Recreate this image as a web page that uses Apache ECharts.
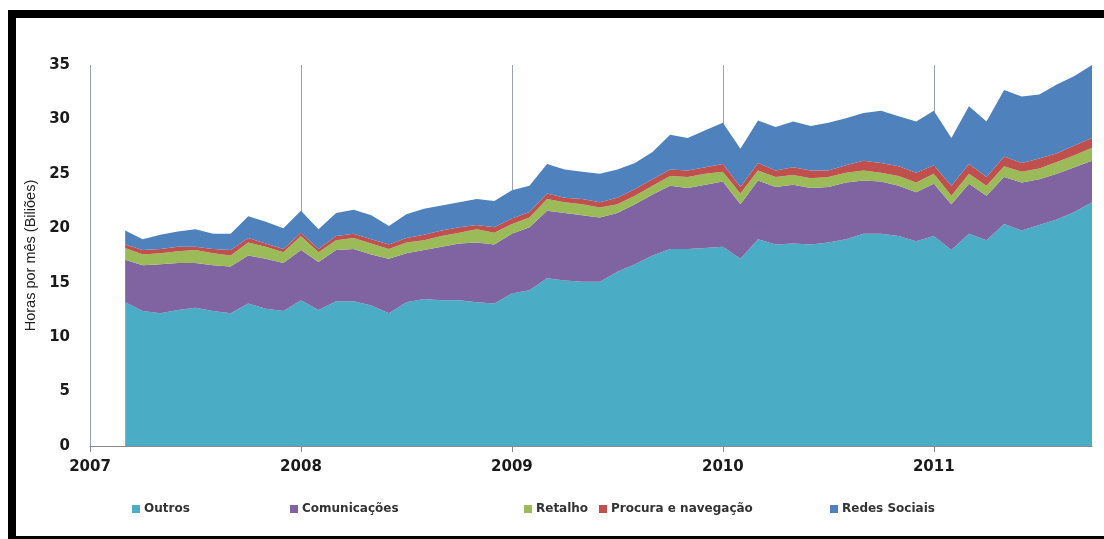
<!DOCTYPE html>
<html>
<head>
<meta charset="utf-8">
<script src="https://cdn.jsdelivr.net/npm/echarts@6/dist/echarts.min.js"></script>
<style>
html,body{margin:0;padding:0;background:#fff;}
#chart{width:1104px;height:539px;}
</style>
</head>
<body>
<div id="chart"></div>
<script>
// Axis months (Jan 2007 – Oct 2011); data starts Mar 2007
const axisMonths = [
 '2007-01','2007-02','2007-03','2007-04','2007-05','2007-06','2007-07','2007-08','2007-09','2007-10','2007-11','2007-12',
 '2008-01','2008-02','2008-03','2008-04','2008-05','2008-06','2008-07','2008-08','2008-09','2008-10','2008-11','2008-12',
 '2009-01','2009-02','2009-03','2009-04','2009-05','2009-06','2009-07','2009-08','2009-09','2009-10','2009-11','2009-12',
 '2010-01','2010-02','2010-03','2010-04','2010-05','2010-06','2010-07','2010-08','2010-09','2010-10','2010-11','2010-12',
 '2011-01','2011-02','2011-03','2011-04','2011-05','2011-06','2011-07','2011-08','2011-09','2011-10'
];
const firstDataMonth = '2007-03';
const seriesNames = ['Outros','Comunicações','Retalho','Procura e navegação','Redes Sociais'];
const outros = [13.2,12.4,12.2,12.5,12.7,12.4,12.2,13.1,12.6,12.4,
 13.4,12.5,13.3,13.3,12.9,12.2,13.2,13.5,13.4,13.4,13.2,13.1,
 14.0,14.3,15.4,15.2,15.1,15.1,16.0,16.7,17.5,18.1,18.1,18.2,
 18.3,17.2,19.0,18.5,18.6,18.5,18.7,19.0,19.5,19.5,19.3,18.8,
 19.3,18.0,19.5,18.9,20.4,19.8,20.3,20.8,21.5,22.4];
const comunicacoes = [3.9,4.2,4.5,4.3,4.1,4.2,4.3,4.4,4.6,4.4,
 4.6,4.4,4.7,4.8,4.7,5.0,4.5,4.5,4.9,5.2,5.5,5.4,
 5.5,5.8,6.2,6.2,6.1,5.9,5.4,5.5,5.6,5.8,5.6,5.8,
 6.0,5.0,5.4,5.3,5.4,5.2,5.1,5.2,4.9,4.8,4.6,4.5,
 4.8,4.2,4.6,4.1,4.3,4.4,4.2,4.2,4.1,3.8];
const retalho = [1.1,1.0,1.0,1.1,1.2,1.1,1.0,1.2,1.1,1.0,
 1.3,0.9,0.9,1.0,1.0,0.9,1.0,0.9,1.0,1.0,1.2,1.1,
 0.9,0.9,1.1,1.0,1.0,0.9,0.8,0.8,0.8,0.9,1.0,1.0,
 0.9,1.0,0.9,0.9,0.9,0.9,0.9,0.9,0.9,0.8,0.9,0.9,
 0.9,0.8,0.9,0.9,1.0,1.0,1.0,1.1,1.1,1.2];
const procura = [0.3,0.4,0.4,0.4,0.3,0.4,0.5,0.4,0.3,0.3,
 0.3,0.3,0.4,0.4,0.4,0.4,0.4,0.5,0.5,0.5,0.4,0.5,
 0.5,0.5,0.5,0.4,0.5,0.5,0.6,0.6,0.6,0.6,0.6,0.6,
 0.7,0.6,0.7,0.6,0.7,0.7,0.6,0.7,0.9,0.9,0.9,0.9,
 0.8,0.9,0.9,0.8,0.9,0.8,0.9,0.8,0.9,0.9];
const redesSociais = [1.3,1.0,1.3,1.4,1.6,1.4,1.5,2.0,2.0,1.9,
 2.0,1.8,2.1,2.2,2.2,1.7,2.2,2.4,2.3,2.3,2.4,2.4,
 2.6,2.4,2.7,2.6,2.5,2.6,2.6,2.4,2.5,3.2,3.0,3.4,
 3.8,3.5,3.9,4.0,4.2,4.1,4.4,4.3,4.4,4.8,4.6,4.7,
 5.0,4.4,5.3,5.1,6.1,6.1,5.9,6.3,6.4,6.7];
const colors = ['#4bacc6','#8064a2','#9bbb59','#c0504d','#4f81bd'];

const offset = axisMonths.indexOf(firstDataMonth);
const allValues = [outros, comunicacoes, retalho, procura, redesSociais];
const isYearStart = (idx, val) => String(val).endsWith('-01');

const chart = echarts.init(document.getElementById('chart'), null, {renderer:'canvas'});
const legendLefts = [127, 285, 519, 594, 825];
const legends = seriesNames.map((n,i) => ({
  data:[n], left: legendLefts[i], top: 498, itemWidth: 8, itemHeight: 8, itemGap: 4,
  icon:'rect', selectedMode:false,
  textStyle:{fontFamily:'DejaVu Sans', fontWeight:'bold', fontSize:12, color:'#333', padding:[0,0,0,-1]}
}));
chart.setOption({
  animation:false,
  color: colors,
  grid:{left:90, right:12, top:65, bottom:93},
  legend: legends,
  xAxis:{
    type:'category', data: axisMonths, boundaryGap:false,
    axisLine:{show:true, lineStyle:{color:'#8a8a8a', width:1}},
    axisTick:{show:true, length:6, interval:isYearStart, lineStyle:{color:'#8a8a8a'}},
    axisLabel:{margin:14, interval:isYearStart, color:'#1a1a1a', fontFamily:'DejaVu Sans', fontWeight:'bold', fontSize:15,
      formatter: v => v.slice(0,4)},
    splitLine:{show:true, interval:isYearStart, lineStyle:{color:'#9aa3ad', width:1}}
  },
  yAxis:{
    type:'value', min:0, max:35, interval:5,
    name:'Horas por mês (Biliões)', nameLocation:'middle', nameGap:50, nameRotate:90,
    nameTextStyle:{fontFamily:'Liberation Sans', fontSize:14.5, color:'#222'},
    axisLine:{show:false}, axisTick:{show:false}, splitLine:{show:false},
    axisLabel:{margin:20, color:'#1a1a1a', fontFamily:'DejaVu Sans', fontWeight:'bold', fontSize:15}
  },
  graphic:[
    {type:'rect', shape:{x:8, y:10, width:1096, height:8}, style:{fill:'#000'}, z:100},
    {type:'rect', shape:{x:8, y:10, width:8, height:529}, style:{fill:'#000'}, z:100},
    {type:'rect', shape:{x:8, y:536, width:1096, height:3}, style:{fill:'#000'}, z:100}
  ],
  series: seriesNames.map((n,i) => ({
    name:n, type:'line', stack:'total', symbol:'none',
    lineStyle:{width:0}, areaStyle:{opacity:1, color:colors[i]},
    itemStyle:{color:colors[i]},
    data: axisMonths.map((m,k) => {
      const j = k - offset;
      return (j >= 0 && j < allValues[i].length) ? allValues[i][j] : '-';
    })
  }))
});
</script>
</body>
</html>
